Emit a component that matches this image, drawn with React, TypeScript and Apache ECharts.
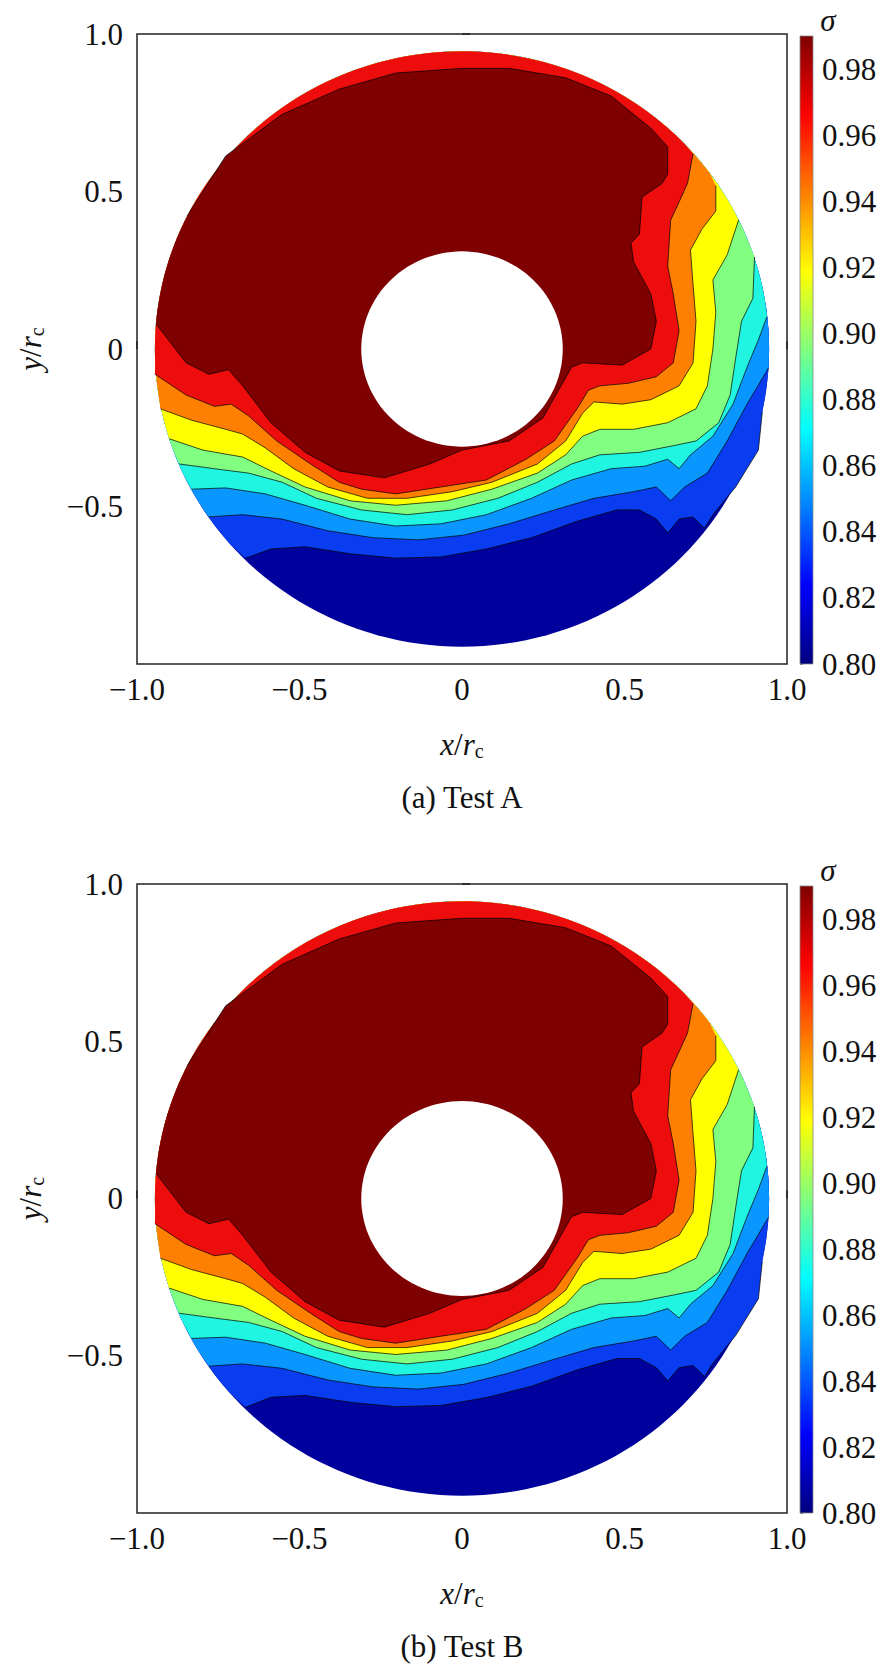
import { useEffect, useRef } from "react";
import * as echarts from "echarts";

// contour levels (sigma) and band colours, from the lowest band upwards
const levels = [0.84, 0.86, 0.88, 0.9, 0.92, 0.94, 0.96, 0.98];
const bandColors = ["#0a3cf0", "#0a96ff", "#1ff5e0", "#80ff80", "#ffff00", "#ff7f00", "#ee0d0d", "#7f0000"];
const baseColor = "#00009c";
const outerR = 0.945;
const holeR = 0.31;
const cbMin = 0.8;
const cbMax = 0.99;

// contour lines (x/rc, y/rc), each from one point on the outer circle to another
const a84 = [[-0.666,-0.664],[-0.588,-0.635],[-0.483,-0.628],[-0.344,-0.65],[-0.204,-0.664],[-0.065,-0.66],[0.075,-0.635],[0.214,-0.599],[0.354,-0.547],[0.476,-0.511],[0.546,-0.511],[0.598,-0.54],[0.633,-0.584],[0.668,-0.54],[0.711,-0.533],[0.746,-0.569],[0.772,-0.526],[0.842,-0.438],[0.912,-0.321],[0.924,-0.2]];
const a86 = [[-0.779,-0.533],[-0.675,-0.526],[-0.553,-0.54],[-0.413,-0.577],[-0.274,-0.599],[-0.134,-0.606],[0.005,-0.591],[0.145,-0.555],[0.284,-0.511],[0.406,-0.474],[0.528,-0.453],[0.598,-0.438],[0.642,-0.482],[0.685,-0.438],[0.755,-0.394],[0.816,-0.292],[0.877,-0.175],[0.943,-0.06]];
const a88 = [[-0.832,-0.445],[-0.727,-0.441],[-0.605,-0.46],[-0.483,-0.496],[-0.344,-0.54],[-0.204,-0.562],[-0.065,-0.555],[0.075,-0.526],[0.214,-0.474],[0.337,-0.416],[0.459,-0.38],[0.563,-0.372],[0.633,-0.35],[0.668,-0.38],[0.703,-0.336],[0.772,-0.277],[0.834,-0.175],[0.877,-0.058],[0.912,0.029],[0.938,0.102]];
const a90 = [[-0.87,-0.365],[-0.762,-0.38],[-0.657,-0.394],[-0.553,-0.423],[-0.448,-0.474],[-0.309,-0.511],[-0.169,-0.526],[-0.03,-0.511],[0.11,-0.474],[0.232,-0.423],[0.337,-0.365],[0.424,-0.336],[0.546,-0.328],[0.65,-0.307],[0.72,-0.292],[0.79,-0.234],[0.825,-0.146],[0.842,-0.029],[0.86,0.088],[0.895,0.161],[0.9,0.292]];
const a92 = [[-0.901,-0.285],[-0.797,-0.321],[-0.675,-0.343],[-0.588,-0.387],[-0.483,-0.438],[-0.344,-0.482],[-0.204,-0.496],[-0.047,-0.482],[0.092,-0.445],[0.232,-0.394],[0.319,-0.336],[0.371,-0.277],[0.424,-0.255],[0.528,-0.255],[0.633,-0.234],[0.72,-0.19],[0.755,-0.117],[0.772,0],[0.781,0.117],[0.772,0.219],[0.816,0.299],[0.851,0.409]];
const a94 = [[-0.928,-0.19],[-0.832,-0.226],[-0.727,-0.255],[-0.675,-0.27],[-0.605,-0.314],[-0.518,-0.38],[-0.413,-0.438],[-0.291,-0.474],[-0.169,-0.474],[-0.03,-0.453],[0.092,-0.423],[0.232,-0.365],[0.319,-0.292],[0.371,-0.204],[0.406,-0.168],[0.493,-0.175],[0.581,-0.161],[0.668,-0.117],[0.711,-0.044],[0.72,0.088],[0.711,0.204],[0.703,0.314],[0.738,0.38],[0.781,0.438],[0.781,0.518]];
const a96 = [[-0.945,-0.08],[-0.849,-0.146],[-0.762,-0.182],[-0.71,-0.175],[-0.657,-0.212],[-0.57,-0.292],[-0.466,-0.365],[-0.378,-0.423],[-0.309,-0.445],[-0.204,-0.46],[-0.065,-0.438],[0.075,-0.416],[0.197,-0.35],[0.284,-0.292],[0.354,-0.19],[0.389,-0.131],[0.424,-0.117],[0.511,-0.109],[0.598,-0.088],[0.65,-0.044],[0.668,0.058],[0.65,0.175],[0.633,0.263],[0.642,0.409],[0.668,0.467],[0.694,0.526],[0.711,0.62]];
const a98 = [[-0.942,0.08],[-0.849,-0.044],[-0.779,-0.08],[-0.718,-0.066],[-0.675,-0.117],[-0.588,-0.234],[-0.483,-0.328],[-0.378,-0.387],[-0.239,-0.409],[-0.099,-0.365],[0,-0.321],[0.145,-0.292],[0.249,-0.219],[0.337,-0.058],[0.371,-0.044],[0.493,-0.051],[0.581,0],[0.598,0.088],[0.581,0.175],[0.528,0.277],[0.52,0.336],[0.546,0.365],[0.554,0.482],[0.616,0.526],[0.633,0.555],[0.633,0.642],[0.581,0.701],[0.459,0.803],[0.319,0.861],[0.145,0.891],[0,0.891],[-0.204,0.876],[-0.378,0.825],[-0.553,0.745],[-0.727,0.613],[-0.845,0.423]];

const b84 = [[-0.666,-0.664],[-0.588,-0.632],[-0.483,-0.626],[-0.344,-0.648],[-0.204,-0.662],[-0.065,-0.658],[0.075,-0.633],[0.214,-0.597],[0.354,-0.545],[0.476,-0.509],[0.546,-0.509],[0.598,-0.538],[0.633,-0.58],[0.668,-0.538],[0.711,-0.531],[0.746,-0.566],[0.772,-0.524],[0.842,-0.436],[0.912,-0.319],[0.924,-0.2]];
const b86 = a86;
const b88 = a88;
const b90 = a90;
const b92 = a92;
const b94 = a94;
const b96 = a96;
const b98 = a98;

const contoursA = [a84, a86, a88, a90, a92, a94, a96, a98];
const contoursB = [b84, b86, b88, b90, b92, b94, b96, b98];

const serif = "'Liberation Serif', 'Times New Roman', serif";

function circlePts(r: number, n: number) {
  const pts: number[][] = [];
  for (let i = 0; i < n; i++) {
    const t = (i / n) * Math.PI * 2;
    pts.push([r * Math.cos(t), r * Math.sin(t)]);
  }
  return pts;
}

// region on the high side of a contour: the line, closed back along the outer circle
function regionAbove(line: number[][]) {
  const s = line[0];
  const e = line[line.length - 1];
  const a0 = Math.atan2(e[1], e[0]);
  let a1 = Math.atan2(s[1], s[0]);
  while (a1 < a0) a1 += Math.PI * 2;
  const pts = line.slice();
  const n = 60;
  for (let i = 1; i < n; i++) {
    const t = a0 + ((a1 - a0) * i) / n;
    pts.push([outerR * Math.cos(t), outerR * Math.sin(t)]);
  }
  return pts;
}

function contourSeries(contours: number[][][], idx: number) {
  // item 0: base disc, 1..8: bands, 9..16: lines, 17: hole
  const items = Array.from({ length: contours.length * 2 + 2 }, (_, i) => [i]);
  return {
    type: "custom",
    xAxisIndex: idx,
    yAxisIndex: idx,
    data: items,
    clip: true,
    renderItem: (params: any, api: any) => {
      const i = params.dataIndex;
      const toPx = (pts: number[][]) => pts.map((p) => api.coord(p));
      const nc = contours.length;
      if (i === 0) {
        return { type: "polygon", shape: { points: toPx(circlePts(outerR, 180)) }, style: { fill: baseColor } };
      }
      if (i <= nc) {
        return { type: "polygon", shape: { points: toPx(regionAbove(contours[i - 1])) }, style: { fill: bandColors[i - 1] } };
      }
      if (i <= nc * 2) {
        return { type: "polyline", shape: { points: toPx(contours[i - nc - 1]) }, style: { stroke: "#000", lineWidth: 0.7, fill: "none" } };
      }
      return { type: "polygon", shape: { points: toPx(circlePts(holeR, 120)) }, style: { fill: "#fff" } };
    },
  };
}

const minus = (s: string) => s.replace("-", "\u2212");

export default function App() {
  const ref = useRef<HTMLDivElement | null>(null);

  useEffect(() => {
    document.body.style.margin = "0";
    if (!ref.current) return;
    const chart = echarts.init(ref.current, undefined, { renderer: "svg" });

    const panels = [
      { top: 34, height: 630, title: "(a) Test A", contours: contoursA },
      { top: 884, height: 629, title: "(b) Test B", contours: contoursB },
    ];
    const label = { fontFamily: serif, fontSize: 31, color: "#111" };
    const rich = {
      i: { fontFamily: serif, fontStyle: "italic", fontSize: 31 },
      n: { fontFamily: serif, fontSize: 31 },
      s: { fontFamily: serif, fontSize: 20, padding: [14, 0, 0, 0] },
    };

    const grid: any[] = [];
    const xAxis: any[] = [];
    const yAxis: any[] = [];
    const series: any[] = [];
    const graphic: any[] = [];

    panels.forEach((p, k) => {
      grid.push({ left: 137, width: 650, top: p.top, height: p.height, show: true, borderColor: "#222", borderWidth: 1.5, backgroundColor: "#fff" });
      grid.push({ left: 800, width: 13, top: p.top + 2, height: p.height - 2 });
      xAxis.push({
        gridIndex: k * 2, type: "value", min: -1, max: 1, interval: 0.5,
        axisLine: { show: false }, splitLine: { show: false },
        axisTick: { inside: true, length: 8, lineStyle: { color: "#222", width: 1.5 } },
        axisLabel: { ...label, margin: 10, formatter: (v: number) => (v === 0 ? "0" : minus(v.toFixed(1))) },
      });
      yAxis.push({
        gridIndex: k * 2, type: "value", min: -1, max: 1, interval: 0.5,
        axisLine: { show: false }, splitLine: { show: false },
        axisTick: { inside: true, length: 8, lineStyle: { color: "#222", width: 1.5 } },
        axisLabel: { ...label, margin: 14, showMinLabel: false, formatter: (v: number) => (v === 0 ? "0" : minus(v.toFixed(1))) },
      });
      xAxis.push({ gridIndex: k * 2 + 1, type: "value", min: 0, max: 1, show: false });
      yAxis.push({
        gridIndex: k * 2 + 1, type: "value", min: cbMin, max: cbMax, interval: 0.02, position: "right",
        axisLine: { show: true, lineStyle: { color: "#888", width: 0.8 } }, splitLine: { show: false },
        axisTick: { show: true, length: 3, lineStyle: { color: "#888" } },
        axisLabel: { ...label, margin: 9, showMaxLabel: false, formatter: (v: number) => v.toFixed(2) },
      });
      series.push(contourSeries(p.contours, k * 2));
      series.push({
        type: "custom", xAxisIndex: k * 2 + 1, yAxisIndex: k * 2 + 1, data: [[0]],
        renderItem: (_params: any, api: any) => {
          const a = api.coord([0, cbMax]);
          const b = api.coord([1, cbMin]);
          return {
            type: "rect",
            shape: { x: a[0], y: a[1], width: b[0] - a[0], height: b[1] - a[1] },
            style: {
              fill: new echarts.graphic.LinearGradient(0, 1, 0, 0, [
                { offset: 0, color: "#00007f" },
                { offset: 0.125, color: "#0000ff" },
                { offset: 0.375, color: "#00ffff" },
                { offset: 0.625, color: "#ffff00" },
                { offset: 0.875, color: "#ff0000" },
                { offset: 1, color: "#7f0000" },
              ]),
              stroke: "#888", lineWidth: 0.8,
            },
          };
        },
      });
      const bottom = p.top + p.height;
      graphic.push({
        type: "text", x: 462, y: bottom + 80,
        style: { rich, text: "{i|x}{n|/}{i|r}{s|c}", fill: "#111", align: "center", verticalAlign: "middle" },
      });
      graphic.push({ type: "text", x: 462, y: bottom + 133, style: { text: p.title, fontFamily: serif, fontSize: 31, fill: "#111", align: "center", verticalAlign: "middle" } });
      graphic.push({
        type: "text", x: 30, y: p.top + p.height / 2, rotation: Math.PI / 2,
        style: { rich, text: "{i|y}{n|/}{i|r}{s|c}", fill: "#111", align: "center", verticalAlign: "middle" },
      });
      graphic.push({ type: "text", x: 828, y: p.top - 14, style: { text: "\u03c3", fontFamily: serif, fontStyle: "italic", fontSize: 31, fill: "#111", align: "center", verticalAlign: "middle" } });
    });

    chart.setOption({ animation: false, grid, xAxis, yAxis, series, graphic });
    return () => chart.dispose();
  }, []);

  return <div ref={ref} style={{ width: 886, height: 1666, background: "#fff" }} />;
}
